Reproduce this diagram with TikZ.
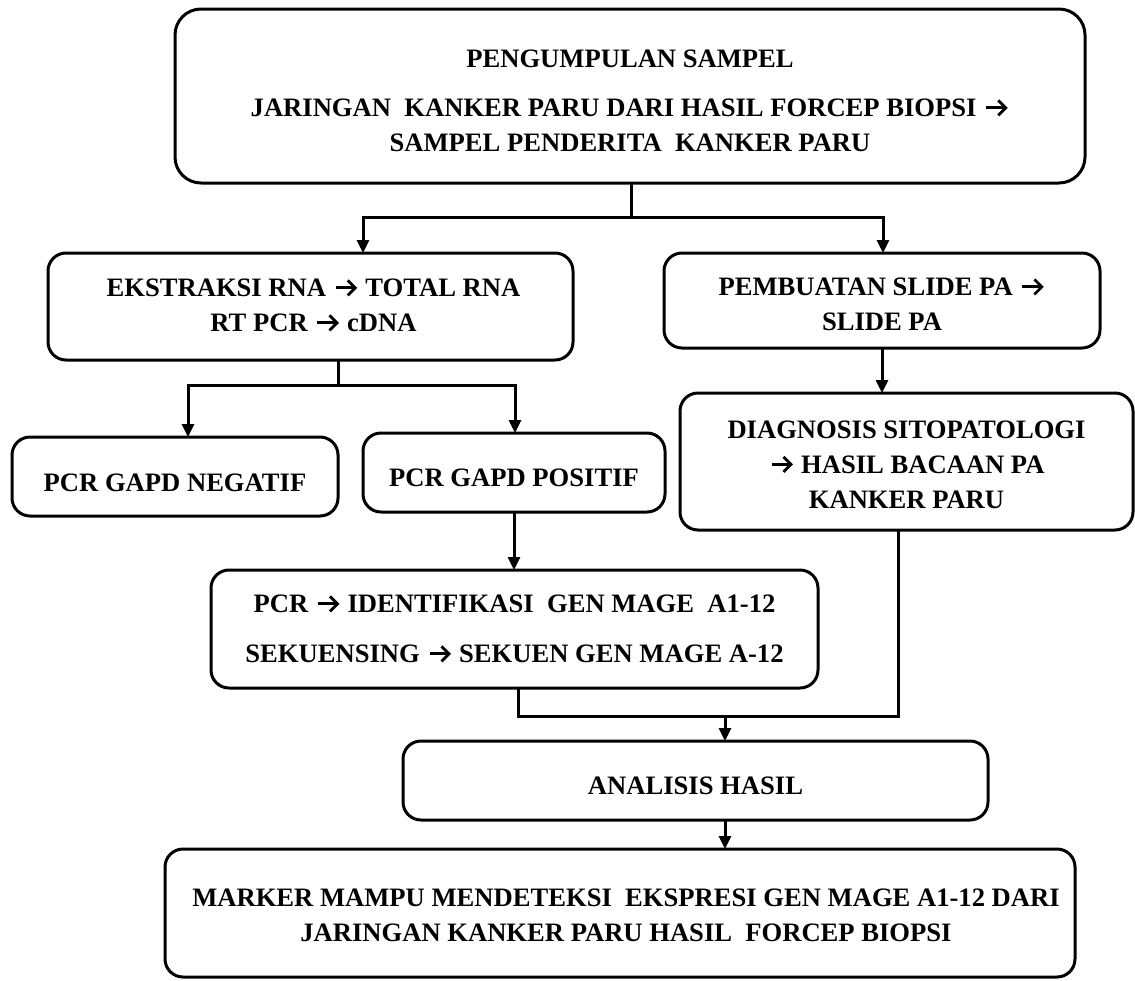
\documentclass[tikz,border=0pt]{standalone}
\usepackage{fontspec}
\setmainfont{Liberation Serif}
\usetikzlibrary{arrows.meta}
\newcommand\rarr{\tikz[x=1pt,y=1pt,baseline=0pt]{\useasboundingbox (-3,0) rectangle (23,17);
  \draw[line width=2.8pt] (0,8.8) -- (19,8.8);
  \draw[line width=2.8pt, line join=miter] (12,16.3) -- (19.5,8.8) -- (12,1.3);}}
\begin{document}
\begin{tikzpicture}[x=1pt,y=-1pt,
  box/.style={draw, line width=3pt, rounded corners=18pt, inner sep=0pt, outer sep=0pt},
  txt/.style={align=center, inner sep=0pt, font=\fontsize{26.6}{35}\selectfont\bfseries},
  conn/.style={line width=3pt},
  arr/.style={line width=3pt, -{Triangle[length=13pt,width=12pt]}}]
\useasboundingbox (0,0) rectangle (1135,980);

\node[box, rounded corners=26pt, minimum width=910pt, minimum height=174pt] (t) at (630,96) {};
\node[txt] (tt) at ([yshift=-5pt]t.center)
  {PENGUMPULAN SAMPEL\\[14pt] JARINGAN~ KANKER PARU DARI HASIL FORCEP BIOPSI \rarr\\ SAMPEL PENDERITA~ KANKER PARU};
\node[box, minimum width=525pt, minimum height=107pt] (b2) at (310.5,306.5) {};
\node[txt] (b2t) at ([xshift=3pt,yshift=1pt]b2.center) {EKSTRAKSI RNA \rarr\ TOTAL RNA\\ RT PCR \rarr\ cDNA};
\node[box, minimum width=436pt, minimum height=95pt] (b3) at (882,300.5) {};
\node[txt] (b3t) at ([yshift=-4pt]b3.center) {PEMBUATAN SLIDE PA \rarr\\ SLIDE PA};
\node[box, minimum width=326pt, minimum height=79pt] (b4) at (175,476.5) {};
\node[txt] (b4t) at ([yshift=-6pt]b4.center) {PCR GAPD NEGATIF};
\node[box, minimum width=302pt, minimum height=79pt] (b5) at (514,472.5) {};
\node[txt] (b5t) at ([yshift=-5pt]b5.center) {PCR GAPD POSITIF};
\node[box, minimum width=453pt, minimum height=137pt] (b6) at (906.5,461.5) {};
\node[txt] (b6t) at ([yshift=-3pt]b6.center) {DIAGNOSIS SITOPATOLOGI\\ \rarr\ HASIL BACAAN PA\\ KANKER PARU};
\node[box, minimum width=607pt, minimum height=118pt] (b7) at (514.5,629) {};
\node[txt] (b7t) at (b7.center) {PCR \rarr\ IDENTIFIKASI~ GEN MAGE~ A1-12\\[15pt] SEKUENSING \rarr\ SEKUEN GEN MAGE A-12};
\node[box, minimum width=585pt, minimum height=79pt] (b8) at (695.5,780.5) {};
\node[txt] (b8t) at ([yshift=-5pt]b8.center) {ANALISIS HASIL};
\node[box, minimum width=910pt, minimum height=128pt] (b9) at (620,913) {};
\node[txt] (b9t) at ([xshift=6pt,yshift=-2pt]b9.center) {MARKER MAMPU MENDETEKSI~ EKSPRESI GEN MAGE A1-12 DARI\\ JARINGAN KANKER PARU HASIL~ FORCEP BIOPSI};

% split from top box
\coordinate (j1) at (631,217);
\coordinate (jL) at (363,217);
\coordinate (jR) at (883,217);
\draw[conn] (j1 |- t.south) -- (j1);
\draw[arr] (jR) -- (jL) -- (jL |- b2.north);
\draw[arr] (jL) -- (jR) -- (jR |- b3.north);

% split from b2
\coordinate (k1) at (338,385);
\coordinate (kL) at (188,385);
\coordinate (kR) at (515,385);
\draw[conn] (k1 |- b2.south) -- (k1);
\draw[arr] (kR) -- (kL) -- (kL |- b4.north);
\draw[arr] (kL) -- (kR) -- (kR |- b5.north);

% b3 -> b6
\draw[arr] (b3.south) -- (b3.south |- b6.north);
% b5 -> b7
\draw[arr] (b5.south) -- (b5.south |- b7.north);

% merge to b8
\coordinate (m1) at (518,716);
\coordinate (m2) at (898,716);
\coordinate (m3) at (725,716);
\draw[conn] (m1 |- b7.south) -- (m1) -- (m2) -- (m2 |- b6.south);
\draw[arr] (m3) -- (m3 |- b8.north);
% b8 -> b9
\draw[arr] (m3 |- b8.south) -- (m3 |- b9.north);
\end{tikzpicture}
\end{document}
